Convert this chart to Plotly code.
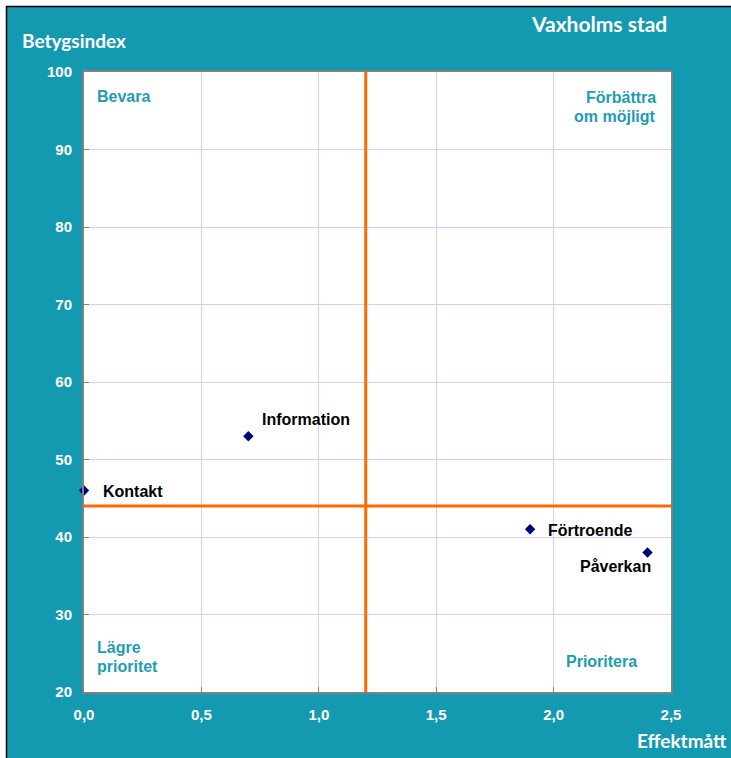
import plotly.graph_objects as go

# Data
names = ["Kontakt", "Information", "Förtroende", "Påverkan"]
effekt = [0.0, 0.7, 1.9, 2.4]
betyg = [46, 53, 41, 38]

x_ticks = [0.0, 0.5, 1.0, 1.5, 2.0, 2.5]
x_ticktext = ["0,0", "0,5", "1,0", "1,5", "2,0", "2,5"]
y_ticks = [20, 30, 40, 50, 60, 70, 80, 90, 100]

x_split = 1.2
y_split = 44

TEAL = "#149AB0"
QTEAL = "#1E9CB2"
TICKFONT = dict(family="Liberation Sans, Arial, sans-serif", size=15, color="white", weight="bold")
LABELFONT = dict(family="Liberation Sans, Arial, sans-serif", size=16, color="black")
QFONT = dict(family="Liberation Sans, Arial, sans-serif", size=16, color=QTEAL)

def tfont(sz):
    return dict(family="Lato, Open Sans, sans-serif", size=sz, color="white")

fig = go.Figure()
fig.add_trace(go.Scatter(
    x=effekt, y=betyg, mode="markers",
    marker=dict(symbol="diamond", size=8, color="#000080"),
    cliponaxis=False, hoverinfo="text", text=names,
))

# point labels
offsets = {
    "Kontakt": dict(xanchor="left", xshift=17, yshift=-1),
    "Information": dict(xanchor="left", xshift=12, yshift=17),
    "Förtroende": dict(xanchor="left", xshift=16, yshift=-1),
    "Påverkan": dict(xanchor="right", xshift=5, yshift=-14),
}
for n, xv, yv in zip(names, effekt, betyg):
    fig.add_annotation(x=xv, y=yv, text="<b>%s</b>" % n, showarrow=False,
                       yanchor="middle", font=LABELFONT, **offsets[n])

# quadrant labels
def qlabel(text, x, y, anchor):
    fig.add_annotation(x=x, y=y, text="<b>%s</b>" % text, showarrow=False,
                       xanchor=anchor, yanchor="middle", font=QFONT)

qlabel("Bevara", 0.047, 96.8, "left")
qlabel("Förbättra", 2.445, 96.65, "right")
qlabel("om möjligt", 2.445, 94.3, "right")
qlabel("Lägre", 0.047, 25.68, "left")
qlabel("prioritet", 0.047, 23.35, "left")
qlabel("Prioritera", 2.204, 23.9, "center")

# titles
fig.add_annotation(xref="paper", yref="paper", x=-0.109, y=1.051, text="<b>Betygsindex</b>",
                   showarrow=False, xanchor="left", yanchor="middle", font=tfont(19))
fig.add_annotation(xref="paper", yref="paper", x=0.997, y=1.079, text="<b>Vaxholms stad</b>",
                   showarrow=False, xanchor="right", yanchor="middle", font=tfont(21))
fig.add_annotation(xref="paper", yref="paper", x=0.938, y=-0.078, text="<b>Effektmått</b>",
                   showarrow=False, xanchor="left", yanchor="middle", font=tfont(19))

# orange quadrant lines
fig.add_shape(type="line", x0=x_split, x1=x_split, y0=20, y1=100,
              line=dict(color="#FF6A00", width=3))
fig.add_shape(type="line", x0=0, x1=2.5, y0=y_split, y1=y_split,
              line=dict(color="#FF6A00", width=3))

# outer white strips + black frame (page edge)
W, H = 587.0, 620.0
def px(v): return (v - 84) / W
def py(v): return (692 - v) / H
fig.add_shape(type="rect", xref="paper", yref="paper", x0=px(0), x1=px(731), y0=py(0), y1=py(6),
              fillcolor="white", line_width=0, layer="above")
fig.add_shape(type="rect", xref="paper", yref="paper", x0=px(0), x1=px(6), y0=py(0), y1=py(758),
              fillcolor="white", line_width=0, layer="above")
fig.add_shape(type="line", xref="paper", yref="paper", x0=px(6), x1=px(731), y0=py(6.5), y1=py(6.5),
              line=dict(color="black", width=1.5), layer="above")
fig.add_shape(type="line", xref="paper", yref="paper", x0=px(6.5), x1=px(6.5), y0=py(6), y1=py(758),
              line=dict(color="black", width=1.5), layer="above")

fig.update_xaxes(range=[0, 2.5], tickvals=x_ticks, ticktext=x_ticktext,
                 showgrid=True, gridcolor="#D0D0FF", gridwidth=1, zeroline=False,
                 showline=True, mirror=True, linecolor="#808080", linewidth=2,
                 ticks="inside", ticklen=5, tickcolor="#808080",
                 tickfont=TICKFONT, ticklabelstandoff=8)
fig.update_yaxes(range=[20, 100], tickvals=y_ticks,
                 showgrid=True, gridcolor="#D0D0FF", gridwidth=1, zeroline=False,
                 showline=True, mirror=True, linecolor="#808080", linewidth=2,
                 ticks="inside", ticklen=5, tickcolor="#808080",
                 tickfont=TICKFONT, ticklabelstandoff=7)

fig.update_layout(width=731, height=758,
                  margin=dict(l=84, r=60, t=72, b=66),
                  paper_bgcolor=TEAL, plot_bgcolor="white",
                  showlegend=False)

fig.write_html("out.html", config={"displayModeBar": False},
               post_script="document.body.style.margin='0px';document.body.style.overflow='hidden';")
